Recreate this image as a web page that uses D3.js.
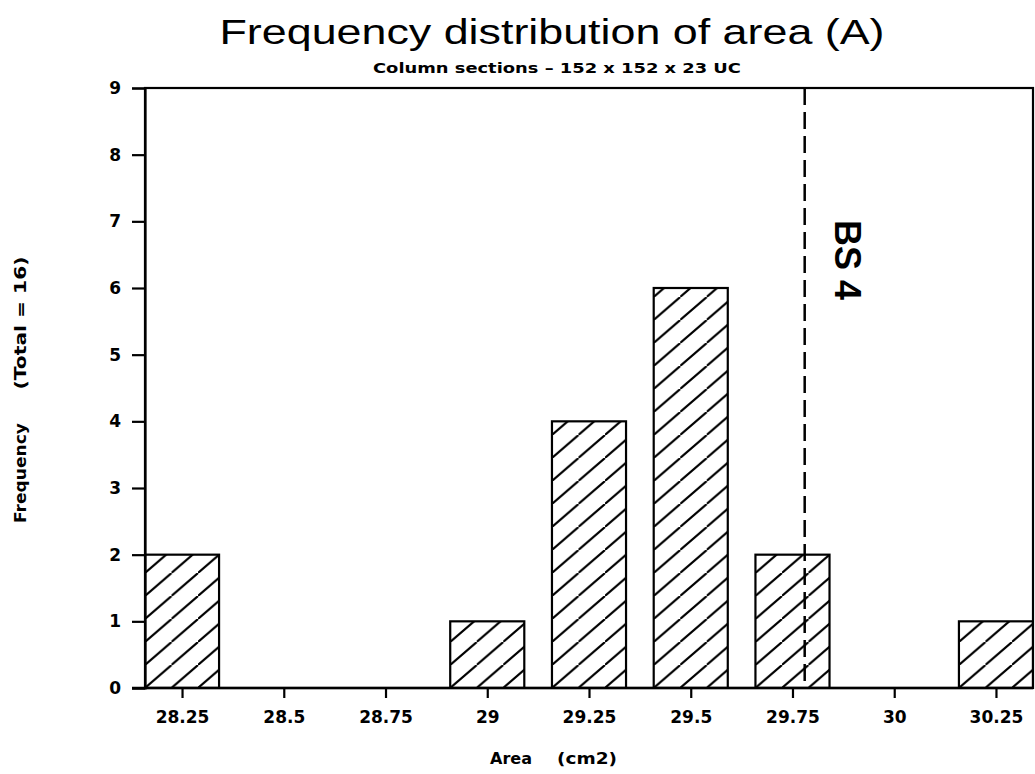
<!DOCTYPE html>
<html>
<head>
<meta charset="utf-8">
<script src="https://cdn.jsdelivr.net/npm/d3@7"></script>
<style>
  html, body { margin: 0; padding: 0; background: #fff; }
  svg { display: block; }
</style>
</head>
<body>
<script>
// ---- data ----
const categories = [28.25, 28.5, 28.75, 29, 29.25, 29.5, 29.75, 30, 30.25];
const frequency  = [2, 0, 0, 1, 4, 6, 2, 0, 1];
const yTicks     = [0, 1, 2, 3, 4, 5, 6, 7, 8, 9];
const xTickLabels = ["28.25", "28.5", "28.75", "29", "29.25", "29.5", "29.75", "30", "30.25"];
const refLineValue = 29.78;
const refLineLabel = "BS 4";
const titleText = "Frequency distribution of area (A)";
const subtitleText = "Column sections \u2013 152 x 152 x 23 UC";
const yLabelParts = ["Frequency", "(Total = 16)"];
const xLabelParts = ["Area", "(cm2)"];

// ---- layout ----
const W = 1035, H = 774;
const mLeft = 145, mRight = 1033, mTop = 88, mBottom = 688;
const barWidthUnits = 0.182;

const svg = d3.select("body").append("svg").attr("width", W).attr("height", H);

const x = d3.scaleLinear().domain([28.159, 30.341]).range([mLeft, mRight]);
const y = d3.scaleLinear().domain([0, 9]).range([mBottom, mTop]);

const data = categories.map((c, i) => ({ c, v: frequency[i], i }));

// hatch patterns, one per bar anchored at bar's bottom-left
const defs = svg.append("defs");
const pw = 26.5, ph = 23;
data.filter(d => d.v > 0).forEach(d => {
  const bx = Math.max(mLeft, x(d.c - barWidthUnits / 2));
  const p = defs.append("pattern")
    .attr("id", "hatch" + d.i)
    .attr("patternUnits", "userSpaceOnUse")
    .attr("x", bx).attr("y", mBottom)
    .attr("width", pw).attr("height", ph);
  p.append("path")
    .attr("d", `M0,${ph} L${pw},0 M${-pw},${ph} L0,0 M${pw},${ph*2} L${pw*2},${ph}`)
    .attr("stroke", "#000").attr("stroke-width", 2.1).attr("fill", "none");
});

// clip for plot
defs.append("clipPath").attr("id", "plotclip")
  .append("rect").attr("x", mLeft).attr("y", mTop).attr("width", mRight - mLeft).attr("height", mBottom - mTop);

// bars
svg.append("g").attr("clip-path", "url(#plotclip)")
  .selectAll("rect.bar")
  .data(data.filter(d => d.v > 0))
  .join("rect")
  .attr("class", "bar")
  .attr("x", d => x(d.c - barWidthUnits / 2))
  .attr("y", d => y(d.v))
  .attr("width", d => x(d.c + barWidthUnits / 2) - x(d.c - barWidthUnits / 2))
  .attr("height", d => y(0) - y(d.v))
  .attr("fill", d => `url(#hatch${d.i})`)
  .attr("stroke", "#000")
  .attr("stroke-width", 2.2);

// frame
svg.append("rect")
  .attr("x", mLeft).attr("y", mTop)
  .attr("width", mRight - mLeft).attr("height", mBottom - mTop)
  .attr("fill", "none").attr("stroke", "#000").attr("stroke-width", 2.2);

// y axis
const yAxis = d3.axisLeft(y).tickValues(yTicks).tickSize(13).tickPadding(11).tickFormat(d3.format("d"));
const gy = svg.append("g").attr("transform", `translate(${mLeft},0)`).call(yAxis);
gy.select(".domain").attr("stroke-width", 2.2);
gy.selectAll(".tick line").attr("stroke-width", 2.2);
gy.selectAll(".tick text")
  .attr("font-family", "DejaVu Sans").attr("font-weight", "bold").attr("font-size", 17).attr("fill", "#000");

// x axis
const xAxis = d3.axisBottom(x).tickValues(categories).tickSize(10).tickPadding(13)
  .tickFormat((d, i) => xTickLabels[i]);
const gx = svg.append("g").attr("transform", `translate(0,${mBottom})`).call(xAxis);
gx.select(".domain").remove();
gx.selectAll(".tick line").attr("stroke-width", 2.2);
gx.selectAll(".tick text")
  .attr("font-family", "DejaVu Sans").attr("font-weight", "bold").attr("font-size", 17).attr("fill", "#000");
svg.append("line").attr("x1", mLeft - 13).attr("x2", mRight).attr("y1", mBottom).attr("y2", mBottom)
  .attr("stroke", "#000").attr("stroke-width", 2.4);

// reference dashed line
svg.append("line")
  .attr("x1", x(refLineValue)).attr("x2", x(refLineValue))
  .attr("y1", y(9)).attr("y2", y(0))
  .attr("stroke", "#000").attr("stroke-width", 2.5)
  .attr("stroke-dasharray", "17,7");

svg.append("text")
  .attr("transform", `translate(${x(refLineValue) + 30},260) rotate(90)`)
  .attr("text-anchor", "middle")
  .attr("font-family", "Liberation Sans").attr("font-weight", "bold").attr("font-size", 36)
  .text(refLineLabel);

// titles
svg.append("text")
  .attr("x", 552).attr("y", 44).attr("text-anchor", "middle")
  .attr("font-family", "Liberation Sans").attr("font-size", 35)
  .attr("textLength", 665).attr("lengthAdjust", "spacingAndGlyphs")
  .text(titleText);
svg.append("text")
  .attr("x", 557).attr("y", 73).attr("text-anchor", "middle")
  .attr("font-family", "DejaVu Sans").attr("font-weight", "bold").attr("font-size", 14.5)
  .attr("textLength", 368).attr("lengthAdjust", "spacingAndGlyphs")
  .text(subtitleText);

// y label
svg.append("text")
  .attr("transform", "translate(26,473) rotate(-90)").attr("text-anchor", "middle")
  .attr("font-family", "DejaVu Sans").attr("font-weight", "bold").attr("font-size", 15.5)
  .attr("textLength", 100).attr("lengthAdjust", "spacingAndGlyphs")
  .text(yLabelParts[0]);
svg.append("text")
  .attr("transform", "translate(26,323) rotate(-90)").attr("text-anchor", "middle")
  .attr("font-family", "DejaVu Sans").attr("font-weight", "bold").attr("font-size", 15.5)
  .attr("textLength", 133).attr("lengthAdjust", "spacingAndGlyphs")
  .text(yLabelParts[1]);

// x label
svg.append("text")
  .attr("x", 511).attr("y", 764).attr("text-anchor", "middle")
  .attr("font-family", "DejaVu Sans").attr("font-weight", "bold").attr("font-size", 15.5)
  .attr("textLength", 42).attr("lengthAdjust", "spacingAndGlyphs")
  .text(xLabelParts[0]);
svg.append("text")
  .attr("x", 587).attr("y", 764).attr("text-anchor", "middle")
  .attr("font-family", "DejaVu Sans").attr("font-weight", "bold").attr("font-size", 15.5)
  .attr("textLength", 60).attr("lengthAdjust", "spacingAndGlyphs")
  .text(xLabelParts[1]);
</script>
</body>
</html>
